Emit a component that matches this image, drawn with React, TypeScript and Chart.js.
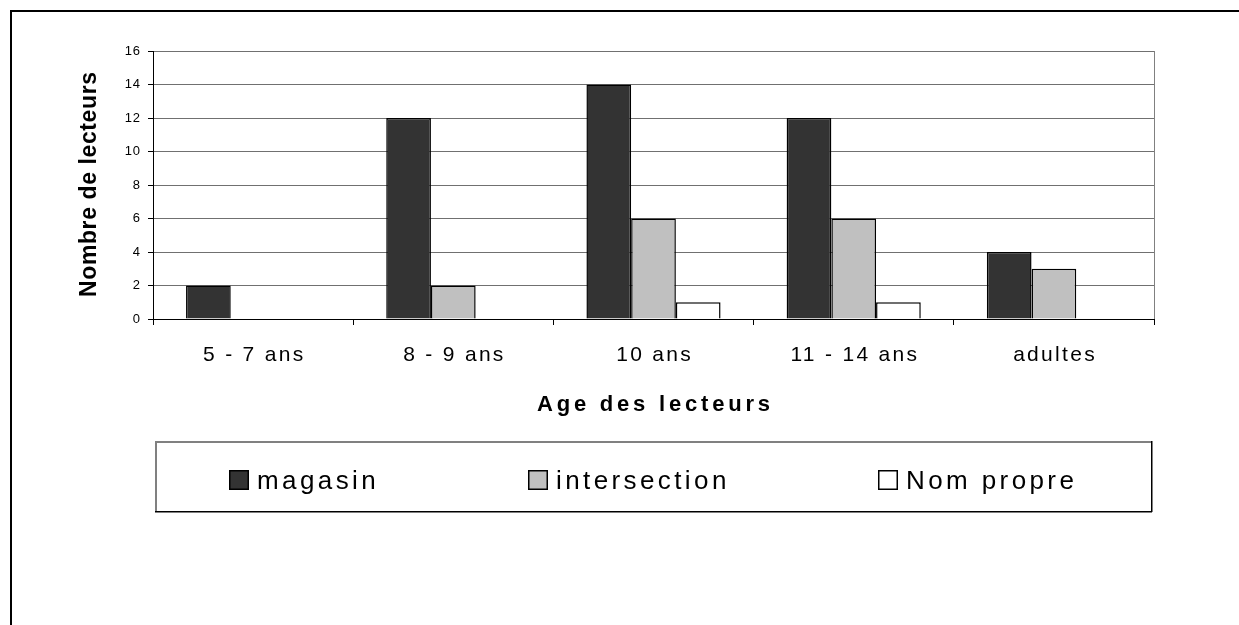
import { useEffect, useRef } from "react";
import { Chart, registerables } from "chart.js";

Chart.register(...registerables);

const categories = ["5 - 7 ans", "8 - 9 ans", "10 ans", "11 - 14 ans", "adultes"];
const magasin = [2, 12, 14, 12, 4];
const intersection = [0, 2, 6, 6, 3];
const nomPropre = [0, 0, 1, 1, 0];
const seriesLabels = ["magasin", "intersection", "Nom propre"];
const seriesColors = ["#333333", "#C0C0C0", "#FFFFFF"];
const yTickValues = [0, 2, 4, 6, 8, 10, 12, 14, 16];
const xTitle = "Age des lecteurs";
const yTitle = "Nombre de lecteurs";

const FONT = "'Liberation Sans', Arial, Helvetica, sans-serif";

function spacedWidth(ctx: CanvasRenderingContext2D, text: string, ls: number) {
  (ctx as any).letterSpacing = "0px";
  const w = ctx.measureText(text).width;
  return w + ls * (Array.from(text).length - 1);
}

function drawSpaced(
  ctx: CanvasRenderingContext2D,
  text: string,
  x: number,
  y: number,
  align: "left" | "center" | "right",
  ls: number
) {
  const w = spacedWidth(ctx, text, ls);
  let sx = x;
  if (align === "center") sx = x - w / 2;
  if (align === "right") sx = x - w;
  (ctx as any).letterSpacing = ls + "px";
  ctx.textAlign = "left";
  ctx.fillText(text, sx, y);
  (ctx as any).letterSpacing = "0px";
}

const decorPlugin = {
  id: "decor",
  afterDraw(chart: any) {
    const ctx: CanvasRenderingContext2D = chart.ctx;
    const area = chart.chartArea;
    const xs = chart.scales.x;
    const ys = chart.scales.y;
    ctx.save();

    // outer frame (left and top)
    ctx.fillStyle = "#000";
    ctx.fillRect(10, 10, 2, 615);
    ctx.fillRect(10, 10, 1229, 2);

    // plot right border
    ctx.strokeStyle = "#808080";
    ctx.lineWidth = 1;
    ctx.beginPath();
    ctx.moveTo(Math.round(area.right) + 0.5, area.top);
    ctx.lineTo(Math.round(area.right) + 0.5, area.bottom);
    ctx.stroke();

    ctx.fillStyle = "#000";
    ctx.textBaseline = "middle";
    // y tick labels
    ctx.font = `13px ${FONT}`;
    yTickValues.forEach((v) => {
      const y = ys.getPixelForValue(v);
      drawSpaced(ctx, String(v), area.left - 13, y, "right", 0.8);
    });

    // x tick labels
    ctx.font = `21px ${FONT}`;
    ctx.textBaseline = "alphabetic";
    categories.forEach((c, i) => {
      const x = xs.getPixelForValue(i);
      drawSpaced(ctx, c, x, 361, "center", 2.3);
    });

    // x title
    ctx.font = `bold 22px ${FONT}`;
    drawSpaced(ctx, xTitle, (area.left + area.right) / 2, 411, "center", 3.8);

    // y title
    ctx.save();
    ctx.translate(90, 184.5);
    ctx.rotate(-Math.PI / 2);
    ctx.font = `bold 23px ${FONT}`;
    ctx.textBaseline = "middle";
    drawSpaced(ctx, yTitle, 0, 0, "center", 0.6);
    ctx.restore();

    // legend box
    const bx = 155, by = 441, bw = 996, bh = 71;
    ctx.fillStyle = "#fff";
    ctx.fillRect(bx, by, bw, bh);
    ctx.fillStyle = "#808080";
    ctx.fillRect(bx, by, bw, 2);
    ctx.fillRect(bx, by, 2, bh);
    ctx.fillStyle = "#000";
    ctx.fillRect(bx, by + bh - 1, bw + 1, 1.5);
    ctx.fillRect(bx + bw, by, 1.5, bh);

    const itemX = [229, 528, 878];
    ctx.font = `26px ${FONT}`;
    ctx.textBaseline = "alphabetic";
    chart.data.datasets.forEach((ds: any, i: number) => {
      const sx = itemX[i];
      ctx.fillStyle = ds.backgroundColor;
      ctx.fillRect(sx, 470, 19, 19);
      ctx.strokeStyle = "#000";
      ctx.lineWidth = 1.5;
      ctx.strokeRect(sx + 0.75, 470.75, 18.5, 18.5);
      ctx.fillStyle = "#000";
      drawSpaced(ctx, ds.label, sx + 28, 489, "left", 3.4);
    });

    ctx.restore();
  },
};

export default function App() {
  const ref = useRef<HTMLCanvasElement | null>(null);
  useEffect(() => {
    if (!ref.current) return;
    const chart = new Chart(ref.current, {
      type: "bar",
      data: {
        labels: categories,
        datasets: [magasin, intersection, nomPropre].map((d, i) => ({
          label: seriesLabels[i],
          data: d,
          backgroundColor: seriesColors[i],
          borderColor: "#000",
          borderWidth: 1.5,
          categoryPercentage: 0.67,
          barPercentage: 1,
        })),
      },
      options: {
        responsive: false,
        animation: false,
        layout: { padding: { left: 148, right: 85, top: 51, bottom: 300 } },
        plugins: { legend: { display: false }, tooltip: { enabled: false } },
        scales: {
          x: {
            offset: true,
            grid: {
              offset: true,
              drawOnChartArea: false,
              drawTicks: true,
              tickLength: 6,
              tickColor: "#000",
            },
            border: { color: "#000", width: 1 },
            ticks: { display: false },
          },
          y: {
            min: 0,
            max: 16,
            ticks: { stepSize: 2, display: false },
            grid: { color: "#707070", tickLength: 5, drawTicks: true, tickColor: "#000" },
            border: { color: "#000", width: 1 },
          },
        },
      },
      plugins: [decorPlugin],
    });
    return () => chart.destroy();
  }, []);
  return (
    <div style={{ position: "absolute", left: 0, top: 0, width: 1239, height: 625, background: "#fff" }}>
      <canvas ref={ref} width={1239} height={625} style={{ display: "block" }} />
    </div>
  );
}
